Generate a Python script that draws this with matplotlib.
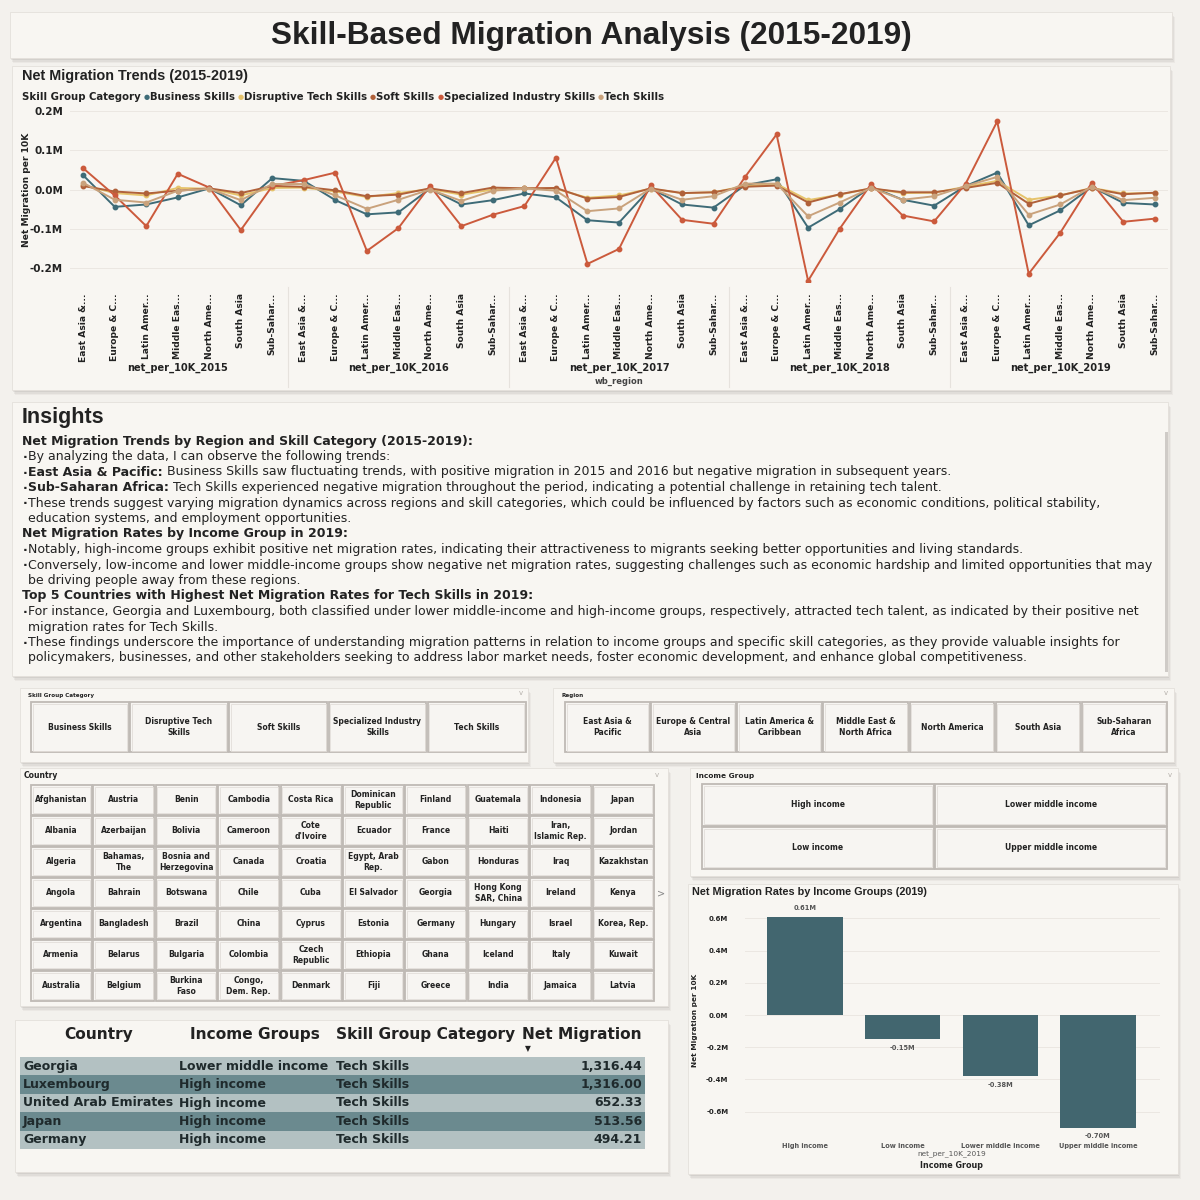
import matplotlib
matplotlib.use('Agg')
import matplotlib.pyplot as plt
from matplotlib.patches import Rectangle

plt.rcParams['font.family'] = ['DejaVu Sans']

# ---------------- data ----------------
years = ['2015', '2016', '2017', '2018', '2019']
regions = ['East Asia &...', 'Europe & C...', 'Latin Amer...', 'Middle Eas...',
           'North Ame...', 'South Asia', 'Sub-Sahar...']
skills = ['Business Skills', 'Disruptive Tech Skills', 'Soft Skills',
          'Specialized Industry Skills', 'Tech Skills']
skill_colors = ['#3e6b77', '#e6c36b', '#b0613a', '#cb5a3c', '#c9a27c']

# net migration per 10K (thousands), 7 regions per year, 2015 -> 2019
business = [36, -44, -38, -20, 3, -40, 29,
            22, -27, -63, -58, 2, -38, -27,
            -10, -20, -78, -84, 3, -38, -46,
            11, 26, -97, -50, 7, -26, -41,
            9, 43, -91, -53, 7, -34, -38]
disruptive = [11, -9, -15, 4, 2, -15, 4,
              5, -5, -19, -9, 1, -13, 0,
              3, 2, -21, -15, 2, -9, -7,
              9, 14, -27, -13, 3, -9, -8,
              7, 22, -26, -15, 4, -10, -9]
soft = [9, -5, -10, -3, 3, -9, 9,
        7, -2, -17, -13, 3, -9, 5,
        3, 4, -23, -19, 3, -9, -7,
        7, 10, -33, -12, 3, -7, -7,
        4, 17, -36, -15, 3, -12, -8]
specialized = [54, -15, -93, 40, 5, -103, 9,
               24, 43, -156, -98, 9, -93, -64,
               -42, 81, -189, -151, 11, -77, -87,
               32, 140, -232, -100, 14, -66, -81,
               15, 173, -214, -110, 17, -82, -74]
tech = [17, -26, -33, -3, 2, -27, 14,
        14, -15, -49, -26, 0, -29, -3,
        3, -3, -55, -48, 2, -26, -17,
        15, 15, -68, -33, 4, -26, -17,
        9, 32, -64, -38, 7, -27, -21]
series = [business, disruptive, soft, specialized, tech]

income_groups = ['High income', 'Low income', 'Lower middle income', 'Upper middle income']
income_net_2019 = [610, -150, -380, -700]  # thousands

skill_buttons = ['Business Skills', 'Disruptive Tech\nSkills', 'Soft Skills',
                 'Specialized Industry\nSkills', 'Tech Skills']
region_buttons = ['East Asia &\nPacific', 'Europe & Central\nAsia', 'Latin America &\nCaribbean',
                  'Middle East &\nNorth Africa', 'North America', 'South Asia', 'Sub-Saharan\nAfrica']
income_buttons = ['High income', 'Lower middle income', 'Low income', 'Upper middle income']
countries = [
    ['Afghanistan', 'Albania', 'Algeria', 'Angola', 'Argentina', 'Armenia', 'Australia'],
    ['Austria', 'Azerbaijan', 'Bahamas,\nThe', 'Bahrain', 'Bangladesh', 'Belarus', 'Belgium'],
    ['Benin', 'Bolivia', 'Bosnia and\nHerzegovina', 'Botswana', 'Brazil', 'Bulgaria', 'Burkina\nFaso'],
    ['Cambodia', 'Cameroon', 'Canada', 'Chile', 'China', 'Colombia', 'Congo,\nDem. Rep.'],
    ['Costa Rica', "Cote\nd'Ivoire", 'Croatia', 'Cuba', 'Cyprus', 'Czech\nRepublic', 'Denmark'],
    ['Dominican\nRepublic', 'Ecuador', 'Egypt, Arab\nRep.', 'El Salvador', 'Estonia', 'Ethiopia', 'Fiji'],
    ['Finland', 'France', 'Gabon', 'Georgia', 'Germany', 'Ghana', 'Greece'],
    ['Guatemala', 'Haiti', 'Honduras', 'Hong Kong\nSAR, China', 'Hungary', 'Iceland', 'India'],
    ['Indonesia', 'Iran,\nIslamic Rep.', 'Iraq', 'Ireland', 'Israel', 'Italy', 'Jamaica'],
    ['Japan', 'Jordan', 'Kazakhstan', 'Kenya', 'Korea, Rep.', 'Kuwait', 'Latvia'],
]

tbl_cols = ['Country', 'Income Groups', 'Skill Group Category', 'Net Migration']
tbl_country = ['Georgia', 'Luxembourg', 'United Arab Emirates', 'Japan', 'Germany']
tbl_income = ['Lower middle income', 'High income', 'High income', 'High income', 'High income']
tbl_skill = ['Tech Skills'] * 5
tbl_net = [1316.44, 1316.00, 652.33, 513.56, 494.21]

insights = [
    ('h', [("Net Migration Trends by Region and Skill Category (2015-2019):", True)]),
    ('b', [("By analyzing the data, I can observe the following trends:", False)]),
    ('b', [("East Asia & Pacific:", True), (" Business Skills saw fluctuating trends, with positive migration in 2015 and 2016 but negative migration in subsequent years.", False)]),
    ('b', [("Sub-Saharan Africa:", True), (" Tech Skills experienced negative migration throughout the period, indicating a potential challenge in retaining tech talent.", False)]),
    ('b', [("These trends suggest varying migration dynamics across regions and skill categories, which could be influenced by factors such as economic conditions, political stability,", False)]),
    ('c', [("education systems, and employment opportunities.", False)]),
    ('h', [("Net Migration Rates by Income Group in 2019:", True)]),
    ('b', [("Notably, high-income groups exhibit positive net migration rates, indicating their attractiveness to migrants seeking better opportunities and living standards.", False)]),
    ('b', [("Conversely, low-income and lower middle-income groups show negative net migration rates, suggesting challenges such as economic hardship and limited opportunities that may", False)]),
    ('c', [("be driving people away from these regions.", False)]),
    ('h', [("Top 5 Countries with Highest Net Migration Rates for Tech Skills in 2019:", True)]),
    ('b', [("For instance, Georgia and Luxembourg, both classified under lower middle-income and high-income groups, respectively, attracted tech talent, as indicated by their positive net", False)]),
    ('c', [("migration rates for Tech Skills.", False)]),
    ('b', [("These findings underscore the importance of understanding migration patterns in relation to income groups and specific skill categories, as they provide valuable insights for", False)]),
    ('c', [("policymakers, businesses, and other stakeholders seeking to address labor market needs, foster economic development, and enhance global competitiveness.", False)]),
]

# ---------------- styling ----------------
BG = '#f3f1ed'
PANEL = '#f8f6f2'
TXT = '#222222'
BTN_EDGE = '#bfbab5'
W = H = 1200

fig = plt.figure(figsize=(12, 12), dpi=100, facecolor=BG)
bg = fig.add_axes([0, 0, 1, 1], zorder=0)
bg.set_xlim(0, W)
bg.set_ylim(H, 0)
bg.axis('off')
renderer = fig.canvas.get_renderer()


def px(x0, y0, x1, y1):
    return [x0 / W, 1 - y1 / H, (x1 - x0) / W, (y1 - y0) / H]


def panel(x0, y0, x1, y1):
    for off, a in [(5, 0.08), (3.5, 0.11), (2, 0.15)]:
        bg.add_patch(Rectangle((x0 + off * 0.5, y0 + off), x1 - x0, y1 - y0,
                               facecolor='#8d8883', alpha=a, edgecolor='none', zorder=0.5))
    bg.add_patch(Rectangle((x0, y0), x1 - x0, y1 - y0, facecolor=PANEL,
                           edgecolor='#e4e0db', lw=0.6, zorder=1))


def button(x0, y0, w, h, label, fs=5.5):
    bg.add_patch(Rectangle((x0, y0), w, h, facecolor='#f7f5f2', edgecolor=BTN_EDGE,
                           lw=1.3, zorder=2))
    bg.add_patch(Rectangle((x0 + 1.5, y0 + 1.5), w - 3, h - 3, facecolor='none',
                           edgecolor='#e2ded9', lw=0.6, zorder=2))
    bg.text(x0 + w / 2, y0 + h / 2, label, ha='center', va='center', fontsize=fs,
            fontweight='bold', color=TXT, linespacing=1.3, zorder=3)


def chevron(x, y):
    bg.text(x, y, 'v', ha='center', va='center', fontsize=5, color='#b5b0ab', zorder=3)


def rich(x, y, parts, fs, color=TXT):
    for text, bold in parts:
        t = bg.text(x, y, text, ha='left', va='center', fontsize=fs,
                    fontweight='bold' if bold else 'normal', color=color, zorder=3)
        x += t.get_window_extent(renderer).width
    return x


# ---------------- panels ----------------
panel(10, 12, 1172, 58)
panel(12, 66, 1170, 390)
panel(12, 402, 1168, 676)
panel(20, 688, 528, 762)
panel(553, 688, 1174, 762)
panel(20, 768, 668, 1006)
panel(690, 768, 1178, 876)
panel(688, 884, 1178, 1174)
panel(15, 1020, 668, 1172)

bg.text(591, 36, 'Skill-Based Migration Analysis (2015-2019)', ha='center', va='center',
        fontsize=22.8, fontweight='bold', family='Liberation Sans', color=TXT, zorder=3)

# ---------------- line chart ----------------
bg.text(22, 76, 'Net Migration Trends (2015-2019)', ha='left', va='center', fontsize=10.4,
        fontweight='bold', family='Liberation Sans', color=TXT, zorder=3)
xl = rich(22, 97, [('Skill Group Category', True)], 7.3)
for name, col in zip(skills, skill_colors):
    t = bg.text(xl + 3, 97, '\u25cf', ha='left', va='center', fontsize=5, color=col, zorder=3)
    xl = xl + 3 + t.get_window_extent(renderer).width
    xl = rich(xl, 97, [(name, True)], 7.3)

ax = fig.add_axes(px(70, 101, 1168, 282), zorder=1)
ax.set_facecolor('none')
xs = list(range(len(years) * len(regions)))
for vals, col in zip(series, skill_colors):
    ax.plot(xs, vals, color=col, lw=1.4, marker='o', ms=3.2, zorder=3)
ax.set_xlim(-0.42, len(xs) - 1 + 0.42)
ax.set_ylim(-235, 225)
ax.set_yticks([-200, -100, 0, 100, 200])
ax.set_yticklabels([f'{v / 1000:.1f}M' for v in [-200, -100, 0, 100, 200]],
                   fontsize=7.5, fontweight='bold', color=TXT)
ax.set_xticks(xs)
ax.set_xticklabels(regions * len(years), rotation=90, fontsize=6.6, fontweight='bold',
                   color=TXT, va='top')
ax.tick_params(axis='both', length=0)
ax.tick_params(axis='x', pad=8)
ax.tick_params(axis='y', pad=5)
ax.grid(axis='y', color='#ebe7e2', lw=0.7)
ax.set_axisbelow(True)
for s in ax.spines.values():
    s.set_visible(False)
xt = ax.get_xaxis_transform()
n = len(regions)
for i, yr in enumerate(years):
    ax.text(i * n + (n - 1) / 2, -0.475, f'net_per_10K_{yr}', transform=xt, ha='center',
            va='center', fontsize=7.15, fontweight='bold', color=TXT)
    if i > 0:
        ax.plot([i * n - 0.5] * 2, [-0.03, -0.58], transform=xt, color='#e6e2dd',
                lw=0.8, clip_on=False)
ax.text((len(xs) - 1) / 2, -0.548, 'wb_region', transform=xt, ha='center', va='center',
        fontsize=6, fontweight='bold', color='#444444')
bg.text(27, 190, 'Net Migration per 10K', rotation=90, ha='center', va='center',
        fontsize=6.6, fontweight='bold', color=TXT, zorder=3)

# ---------------- insights ----------------
bg.text(22, 418, 'Insights', ha='left', va='center', fontsize=15.5, fontweight='bold',
        family='Liberation Sans', color=TXT, zorder=3)
y = 441
for kind, parts in insights:
    if kind == 'h':
        rich(22, y, parts, 9.0)
    elif kind == 'b':
        bg.text(23, y + 1, '\u00b7', ha='left', va='center', fontsize=9, fontweight='bold',
                color=TXT, zorder=3)
        rich(28, y, parts, 9.0)
    else:
        rich(28, y, parts, 9.0)
    y += 15.5
bg.add_patch(Rectangle((1164.5, 432), 3, 240, facecolor='#cfcbc7', edgecolor='none', zorder=3))

# ---------------- filters ----------------
bg.text(28, 695, 'Skill Group Category', ha='left', va='center', fontsize=4.1,
        fontweight='bold', color=TXT, zorder=3)
chevron(528 - 7, 693)
bw = (527 - 31) / len(skill_buttons)
for i, lab in enumerate(skill_buttons):
    button(31 + i * bw, 702, bw - 1.5, 50, lab, fs=5.5)

bg.text(561, 695, 'Region', ha='left', va='center', fontsize=4.1, fontweight='bold',
        color=TXT, zorder=3)
chevron(1166, 693)
bw = (1168 - 565) / len(region_buttons)
for i, lab in enumerate(region_buttons):
    button(565 + i * bw, 702, bw - 1.5, 50, lab, fs=5.5)

bg.text(24, 776, 'Country', ha='left', va='center', fontsize=5.5, fontweight='bold',
        color=TXT, zorder=3)
chevron(657, 775)
cw = (655 - 31) / len(countries)
ch = (1002 - 785) / len(countries[0])
for c, col in enumerate(countries):
    for r, lab in enumerate(col):
        button(31 + c * cw, 785 + r * ch, cw - 1.5, ch - 1.5, lab, fs=5.5)
bg.text(661, 893, '>', ha='center', va='center', fontsize=7, color='#888888', zorder=3)

bg.text(696, 776, 'Income Group', ha='left', va='center', fontsize=5.3, fontweight='bold',
        color=TXT, zorder=3)
chevron(1170, 775)
iw = (1168 - 702) / 2
ih = (870 - 784) / 2
for k, lab in enumerate(income_buttons):
    button(702 + (k % 2) * iw, 784 + (k // 2) * ih, iw - 1.5, ih - 1.5, lab, fs=5.5)

# ---------------- bar chart ----------------
bg.text(692, 892, 'Net Migration Rates by Income Groups (2019)', ha='left', va='center',
        fontsize=7.8, fontweight='bold', family='Liberation Sans', color=TXT, zorder=3)
ax2 = fig.add_axes(px(745, 905, 1160, 1135), zorder=1)
ax2.set_facecolor('none')
bx = list(range(len(income_groups)))
ax2.bar(bx, income_net_2019, width=0.77, color='#42666f', zorder=3)
ax2.set_xlim(-0.614, 3.635)
ax2.set_ylim(-745, 683)
yt = [-600, -400, -200, 0, 200, 400, 600]
ax2.set_yticks(yt)
ax2.set_yticklabels([f'{v / 1000:.1f}M' for v in yt], fontsize=5.0, fontweight='bold',
                    color=TXT)
ax2.set_xticks(bx)
ax2.set_xticklabels(income_groups, fontsize=4.8, fontweight='bold', color='#555555')
ax2.tick_params(axis='both', length=0)
ax2.tick_params(axis='x', pad=6)
ax2.tick_params(axis='y', pad=12)
ax2.grid(axis='y', color='#ebe7e2', lw=0.7)
ax2.set_axisbelow(True)
for s in ax2.spines.values():
    s.set_visible(False)
for xb, v in zip(bx, income_net_2019):
    ax2.annotate(f'{v / 1000:.2f}M', (xb, v), xytext=(0, 4 if v > 0 else -4),
                 textcoords='offset points', ha='center', va='bottom' if v > 0 else 'top',
                 fontsize=4.8, fontweight='bold', color='#555555')
bg.text(952, 1154, 'net_per_10K_2019', ha='center', va='center', fontsize=5.3,
        color='#555555', zorder=3)
bg.text(952, 1165, 'Income Group', ha='center', va='center', fontsize=5.8,
        fontweight='bold', color=TXT, zorder=3)
bg.text(695, 1020, 'Net Migration per 10K', rotation=90, ha='center', va='center',
        fontsize=5.3, fontweight='bold', color=TXT, zorder=3)

# ---------------- table ----------------
hdr_x = [99, 255, 426, 582]
for hx, h in zip(hdr_x, tbl_cols):
    bg.text(hx, 1035, h, ha='center', va='center', fontsize=11.1, fontweight='bold',
            color=TXT, zorder=3)
bg.text(528, 1049, '\u25bc', ha='center', va='center', fontsize=5.5, color=TXT, zorder=3)
rh = 18.4
for i in range(len(tbl_country)):
    y0 = 1057 + i * rh
    bg.add_patch(Rectangle((20, y0), 625, rh, facecolor='#b3c1c2' if i % 2 == 0 else '#6b8a8f',
                           edgecolor='none', zorder=2))
    yc = y0 + rh / 2
    for xx, val in [(23, tbl_country[i]), (179, tbl_income[i]), (336, tbl_skill[i])]:
        bg.text(xx, yc, val, ha='left', va='center', fontsize=9, fontweight='bold',
                color='#1f2a2c', zorder=3)
    bg.text(642, yc, f'{tbl_net[i]:,.2f}', ha='right', va='center', fontsize=9,
            fontweight='bold', color='#1f2a2c', zorder=3)

fig.savefig('out.png', dpi=100, facecolor=BG)
